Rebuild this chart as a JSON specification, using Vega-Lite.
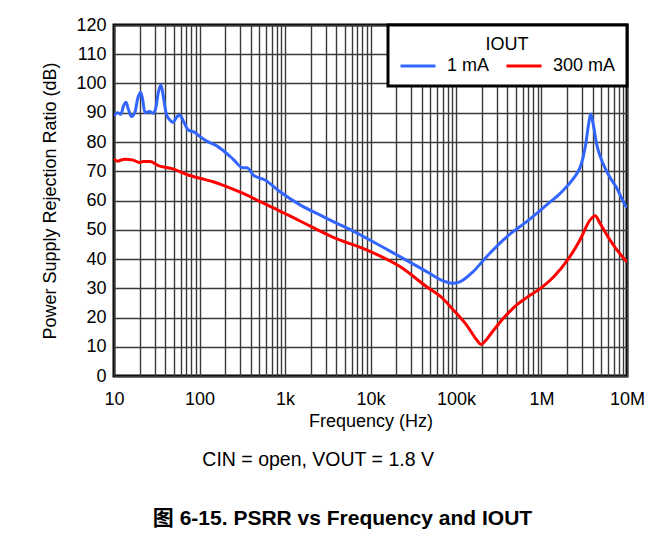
{
  "$schema": "https://vega.github.io/schema/vega-lite/v6.json",
  "width": 513,
  "height": 351,
  "autosize": {"type": "none"},
  "padding": {"left": 114, "top": 25, "right": 25, "bottom": 162},
  "background": "white",
  "config": {
    "font": "Liberation Sans",
    "view": {"stroke": "black", "strokeWidth": 3},
    "axis": {"labelFont": "Liberation Sans", "titleFont": "Liberation Sans", "labelFontSize": 18, "titleFontSize": 18, "titleFontWeight": "normal", "labelColor": "black", "titleColor": "black", "domain": false, "ticks": false, "gridColor": "#3a3a3a", "gridWidth": 1.4, "gridOpacity": 1},
    "legend": {"orient": "top-right", "offset": 0, "direction": "horizontal", "fillColor": "white", "strokeColor": "black", "strokeWidth": 3, "padding": 11, "titleFontSize": 18, "titleFontWeight": "normal", "titleColor": "black", "titleAnchor": "middle", "titleAlign": "center", "labelFontSize": 18, "labelColor": "black", "symbolType": "stroke", "symbolStrokeWidth": 3, "symbolSize": 1225, "columnPadding": 10, "labelOffset": 10, "titlePadding": -7}
  },
  "title": {
    "text": "CIN = open, VOUT = 1.8 V\u00a0\u00a0\u00a0\u00a0\u00a0\u00a0\u00a0\u00a0\u00a0\u200b",
    "subtitle": "图 6-15. PSRR vs Frequency and IOUT",
    "orient": "bottom",
    "anchor": "middle",
    "frame": "group",
    "dx": -28,
    "offset": 21,
    "font": "Liberation Sans",
    "fontSize": 19.5,
    "fontWeight": "normal",
    "color": "black",
    "subtitleFont": "Liberation Sans, Noto Sans CJK SC",
    "subtitleFontSize": 21,
    "subtitleFontWeight": "bold",
    "subtitleColor": "black",
    "subtitlePadding": 37
  },
  "data": {"values": [
    {"f": 10, "db": 89, "s": "1 mA"},
    {"f": 11, "db": 90, "s": "1 mA"},
    {"f": 12, "db": 89.5, "s": "1 mA"},
    {"f": 13, "db": 92.5, "s": "1 mA"},
    {"f": 13.8, "db": 93.6, "s": "1 mA"},
    {"f": 14.8, "db": 91, "s": "1 mA"},
    {"f": 16, "db": 88.7, "s": "1 mA"},
    {"f": 17.5, "db": 90, "s": "1 mA"},
    {"f": 19, "db": 95, "s": "1 mA"},
    {"f": 20.5, "db": 97, "s": "1 mA"},
    {"f": 21.5, "db": 95, "s": "1 mA"},
    {"f": 23, "db": 90, "s": "1 mA"},
    {"f": 26, "db": 90.4, "s": "1 mA"},
    {"f": 29, "db": 89.8, "s": "1 mA"},
    {"f": 31, "db": 92, "s": "1 mA"},
    {"f": 33, "db": 97, "s": "1 mA"},
    {"f": 35.5, "db": 99.5, "s": "1 mA"},
    {"f": 37.5, "db": 96, "s": "1 mA"},
    {"f": 41, "db": 89.5, "s": "1 mA"},
    {"f": 45, "db": 87.5, "s": "1 mA"},
    {"f": 49, "db": 86.7, "s": "1 mA"},
    {"f": 54, "db": 88.5, "s": "1 mA"},
    {"f": 59, "db": 89.2, "s": "1 mA"},
    {"f": 65, "db": 87, "s": "1 mA"},
    {"f": 74, "db": 84.1, "s": "1 mA"},
    {"f": 88, "db": 83.3, "s": "1 mA"},
    {"f": 100, "db": 82, "s": "1 mA"},
    {"f": 121, "db": 80.3, "s": "1 mA"},
    {"f": 152, "db": 79, "s": "1 mA"},
    {"f": 200, "db": 76.5, "s": "1 mA"},
    {"f": 250, "db": 74, "s": "1 mA"},
    {"f": 320, "db": 71.2, "s": "1 mA"},
    {"f": 360, "db": 71.2, "s": "1 mA"},
    {"f": 426, "db": 68.7, "s": "1 mA"},
    {"f": 583, "db": 67, "s": "1 mA"},
    {"f": 874, "db": 63, "s": "1 mA"},
    {"f": 1500, "db": 58.5, "s": "1 mA"},
    {"f": 2800, "db": 54.5, "s": "1 mA"},
    {"f": 3670, "db": 52.8, "s": "1 mA"},
    {"f": 5750, "db": 50.1, "s": "1 mA"},
    {"f": 9000, "db": 47.1, "s": "1 mA"},
    {"f": 22100, "db": 40.8, "s": "1 mA"},
    {"f": 45400, "db": 35.7, "s": "1 mA"},
    {"f": 71000, "db": 32.5, "s": "1 mA"},
    {"f": 89000, "db": 31.7, "s": "1 mA"},
    {"f": 111000, "db": 32.2, "s": "1 mA"},
    {"f": 159000, "db": 35.7, "s": "1 mA"},
    {"f": 228000, "db": 40.8, "s": "1 mA"},
    {"f": 392000, "db": 47.6, "s": "1 mA"},
    {"f": 671000, "db": 52.8, "s": "1 mA"},
    {"f": 1000000, "db": 57, "s": "1 mA"},
    {"f": 1260000, "db": 59.5, "s": "1 mA"},
    {"f": 1600000, "db": 62, "s": "1 mA"},
    {"f": 2000000, "db": 65, "s": "1 mA"},
    {"f": 2500000, "db": 68.5, "s": "1 mA"},
    {"f": 2800000, "db": 71, "s": "1 mA"},
    {"f": 3050000, "db": 74.5, "s": "1 mA"},
    {"f": 3300000, "db": 79.5, "s": "1 mA"},
    {"f": 3550000, "db": 86, "s": "1 mA"},
    {"f": 3760000, "db": 89.6, "s": "1 mA"},
    {"f": 4060000, "db": 85.5, "s": "1 mA"},
    {"f": 4400000, "db": 79.5, "s": "1 mA"},
    {"f": 4800000, "db": 75.5, "s": "1 mA"},
    {"f": 5780000, "db": 70, "s": "1 mA"},
    {"f": 6600000, "db": 67, "s": "1 mA"},
    {"f": 7570000, "db": 64.3, "s": "1 mA"},
    {"f": 9480000, "db": 58.5, "s": "1 mA"},
    {"f": 10000000, "db": 57.5, "s": "1 mA"},
    {"f": 10, "db": 74.3, "s": "300 mA"},
    {"f": 11, "db": 73.4, "s": "300 mA"},
    {"f": 12, "db": 73.8, "s": "300 mA"},
    {"f": 13.4, "db": 74.1, "s": "300 mA"},
    {"f": 16.8, "db": 73.8, "s": "300 mA"},
    {"f": 19.7, "db": 73, "s": "300 mA"},
    {"f": 22, "db": 73.3, "s": "300 mA"},
    {"f": 26.4, "db": 73.3, "s": "300 mA"},
    {"f": 33, "db": 71.9, "s": "300 mA"},
    {"f": 49, "db": 70.8, "s": "300 mA"},
    {"f": 71, "db": 68.9, "s": "300 mA"},
    {"f": 101, "db": 67.6, "s": "300 mA"},
    {"f": 145, "db": 66.4, "s": "300 mA"},
    {"f": 208, "db": 64.7, "s": "300 mA"},
    {"f": 325, "db": 62.4, "s": "300 mA"},
    {"f": 511, "db": 59.6, "s": "300 mA"},
    {"f": 874, "db": 56.4, "s": "300 mA"},
    {"f": 1500, "db": 53, "s": "300 mA"},
    {"f": 3670, "db": 47.4, "s": "300 mA"},
    {"f": 9000, "db": 43.1, "s": "300 mA"},
    {"f": 22100, "db": 37.4, "s": "300 mA"},
    {"f": 45400, "db": 30.5, "s": "300 mA"},
    {"f": 70000, "db": 26.5, "s": "300 mA"},
    {"f": 93000, "db": 22.6, "s": "300 mA"},
    {"f": 133000, "db": 17.4, "s": "300 mA"},
    {"f": 175000, "db": 12.3, "s": "300 mA"},
    {"f": 196000, "db": 10.8, "s": "300 mA"},
    {"f": 228000, "db": 12.5, "s": "300 mA"},
    {"f": 260000, "db": 14.7, "s": "300 mA"},
    {"f": 300000, "db": 17, "s": "300 mA"},
    {"f": 360000, "db": 19.8, "s": "300 mA"},
    {"f": 424000, "db": 22, "s": "300 mA"},
    {"f": 513000, "db": 24.3, "s": "300 mA"},
    {"f": 670000, "db": 26.8, "s": "300 mA"},
    {"f": 1000000, "db": 30.2, "s": "300 mA"},
    {"f": 1400000, "db": 34, "s": "300 mA"},
    {"f": 2000000, "db": 39.5, "s": "300 mA"},
    {"f": 2820000, "db": 46.5, "s": "300 mA"},
    {"f": 3690000, "db": 53.3, "s": "300 mA"},
    {"f": 4250000, "db": 54.8, "s": "300 mA"},
    {"f": 4830000, "db": 52.2, "s": "300 mA"},
    {"f": 6320000, "db": 46.5, "s": "300 mA"},
    {"f": 9500000, "db": 39.7, "s": "300 mA"},
    {"f": 10000000, "db": 39, "s": "300 mA"}
  ]},
  "mark": {"type": "line", "interpolate": "monotone", "strokeWidth": 3, "clip": true},
  "encoding": {
    "x": {"field": "f", "type": "quantitative", "scale": {"type": "log", "domain": [10, 10000000], "nice": false},
      "axis": {"title": "Frequency (Hz)", "titlePadding": 4, "labelPadding": 14, "labelFlush": false, "labelOverlap": false,
        "values": [10,20,30,40,50,60,70,80,90,100,200,300,400,500,600,700,800,900,1000,2000,3000,4000,5000,6000,7000,8000,9000,10000,20000,30000,40000,50000,60000,70000,80000,90000,100000,200000,300000,400000,500000,600000,700000,800000,900000,1000000,2000000,3000000,4000000,5000000,6000000,7000000,8000000,9000000,10000000],
        "labelExpr": "datum.value==10?'10':datum.value==100?'100':datum.value==1000?'1k':datum.value==10000?'10k':datum.value==100000?'100k':datum.value==1000000?'1M':datum.value==10000000?'10M':''"}},
    "y": {"field": "db", "type": "quantitative", "scale": {"domain": [0, 120], "nice": false},
      "axis": {"title": "Power Supply Rejection Ratio (dB)", "values": [0,10,20,30,40,50,60,70,80,90,100,110,120], "labelPadding": 8, "titlePadding": 16}},
    "color": {"field": "s", "type": "nominal", "sort": ["1 mA", "300 mA"], "scale": {"domain": ["1 mA", "300 mA"], "range": ["#3366ff", "#ff0000"]}, "legend": {"title": "IOUT"}}
  }
}
